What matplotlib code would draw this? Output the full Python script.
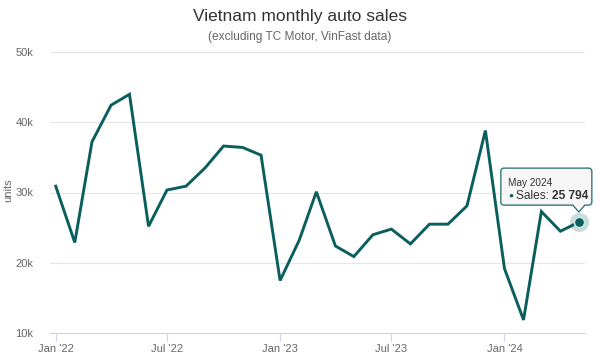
import numpy as np
import pandas as pd
import matplotlib
matplotlib.use('Agg')
import matplotlib.pyplot as plt
import matplotlib.dates as mdates
from matplotlib.path import Path
from matplotlib.patches import PathPatch
from matplotlib.transforms import IdentityTransform

plt.rcParams['font.family'] = ['Liberation Sans', 'DejaVu Sans']

months = pd.date_range('2022-01-01', '2024-05-01', freq='MS')
sales = [30900, 22900, 37200, 42400, 43950, 25200, 30350, 30900, 33500, 36600,
         36400, 35300, 17500, 23200, 30100, 22400, 20900, 24000, 24800, 22700,
         25500, 25500, 28100, 38800, 19200, 11900, 27300, 24500, 25794]
yticks = [10000, 20000, 30000, 40000, 50000]
ytick_labels = ['10k', '20k', '30k', '40k', '50k']
xtick_dates = pd.to_datetime(['2022-01-01', '2022-07-01', '2023-01-01', '2023-07-01', '2024-01-01'])
xtick_labels = ["Jan '22", "Jul '22", "Jan '23", "Jul '23", "Jan '24"]

teal = '#0a5f5e'
grey = '#666666'
W, H = 600, 354

fig = plt.figure(figsize=(6, 3.54), dpi=100)
ax = fig.add_axes([50 / W, (H - 333.3) / H, 535 / W, 281.6 / H])

ax.plot(months, sales, color=teal, lw=2.1, solid_joinstyle='miter', zorder=3)

ax.set_ylim(10000, 50000)
ax.set_xlim(pd.Timestamp('2022-01-01') - pd.Timedelta(days=9.3),
            pd.Timestamp('2024-01-01') + pd.Timedelta(days=131))
ax.set_yticks(yticks)
ax.set_yticklabels(ytick_labels)
ax.set_xticks(xtick_dates)
ax.set_xticklabels(xtick_labels)
ax.grid(axis='y', color='#e6e6e6', lw=0.8)
ax.set_axisbelow(True)
for s in ['top', 'right', 'left']:
    ax.spines[s].set_visible(False)
ax.spines['bottom'].set_color('#ccd6eb')
ax.spines['bottom'].set_linewidth(0.8)
ax.tick_params(axis='x', colors='#ccd6eb', length=6, width=0.8, labelcolor=grey,
               labelsize=8, pad=2)
ax.tick_params(axis='y', length=0, labelcolor=grey, labelsize=8, pad=12)
fig.text(8 / W, 1 - 190 / H, 'units', rotation=90, ha='center', va='center',
         color=grey, fontsize=8)

fig.text(0.5, 1 - 17 / H, 'Vietnam monthly auto sales', ha='center', va='center',
         fontsize=12.5, color='#333333')
fig.text(0.5, 1 - 37 / H, '(excluding TC Motor, VinFast data)', ha='center',
         va='center', fontsize=8.6, color=grey)

# hovered point + tooltip
last_x, last_y = months[-1], sales[-1]
ax.scatter([last_x], [last_y], s=190, color=teal, alpha=0.22, lw=0, zorder=4,
           clip_on=False)
ax.scatter([last_x], [last_y], s=55, color=teal, edgecolor='#cfe3e2', lw=1.2,
           zorder=5, clip_on=False)

fig.canvas.draw()
px, py = ax.transData.transform((mdates.date2num(last_x), last_y))
left, right = px - 78, px + 13
bottom, top = py + 17, py + 54
tip = (px, py + 10)
r = 3
verts = [(left + r, bottom), (px - 6, bottom), tip, (px + 6, bottom),
         (right - r, bottom), (right, bottom), (right, bottom + r),
         (right, top - r), (right, top), (right - r, top),
         (left + r, top), (left, top), (left, top - r),
         (left, bottom + r), (left, bottom), (left + r, bottom), (left + r, bottom)]
codes = [Path.MOVETO, Path.LINETO, Path.LINETO, Path.LINETO,
         Path.LINETO, Path.CURVE3, Path.CURVE3,
         Path.LINETO, Path.CURVE3, Path.CURVE3,
         Path.LINETO, Path.CURVE3, Path.CURVE3,
         Path.LINETO, Path.CURVE3, Path.CURVE3, Path.CLOSEPOLY]
box = PathPatch(Path(verts, codes), facecolor='#f7f7f7', alpha=0.92, edgecolor=teal,
                lw=0.9, transform=IdentityTransform(), zorder=10)
fig.add_artist(box)
fig.text((left + 7) / W, (top - 15) / H, months[-1].strftime('%B %Y'),
         fontsize=7.2, color='#333333', va='center', zorder=11)
fig.text((left + 7) / W, (top - 28) / H, '\u25cf', fontsize=6, color=teal,
         va='center', zorder=11)
t = fig.text((left + 15) / W, (top - 28) / H, 'Sales: ', fontsize=8.6,
             color='#333333', va='center', zorder=11)
fig.canvas.draw()
bb = t.get_window_extent()
fig.text(bb.x1 / W, (top - 28) / H, f'{last_y:,}'.replace(',', ' '), fontsize=8.6,
         color='#333333', fontweight='bold', va='center', zorder=11)

fig.savefig('out.png', dpi=100, facecolor='white')
